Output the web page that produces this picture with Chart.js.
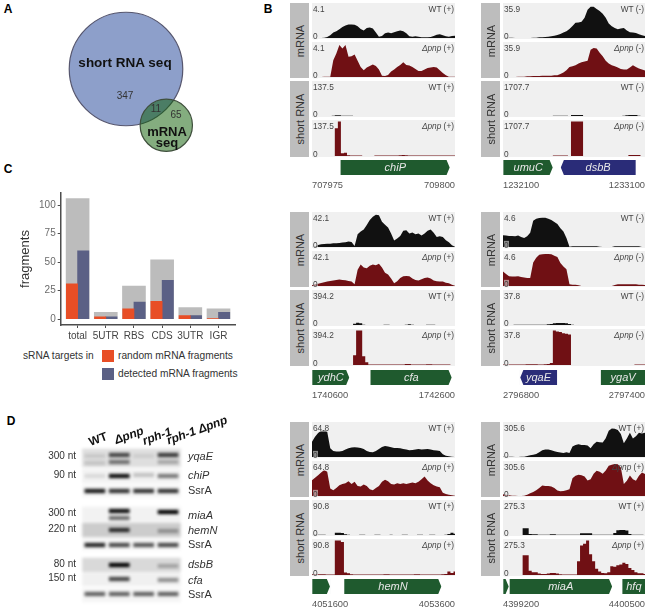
<!DOCTYPE html>
<html>
<head>
<meta charset="utf-8">
<script src="https://cdn.jsdelivr.net/npm/chart.js@4/dist/chart.umd.js"></script>
<style>
  html, body { margin: 0; padding: 0; background: #fff; overflow: hidden; }
  body { position: relative; width: 648px; height: 610px; font-family: "Liberation Sans", Arial, sans-serif; }
  canvas { position: absolute; display: block; }
  .txt { position: absolute; white-space: nowrap; line-height: 1; }
  .box { position: absolute; }
</style>
</head>
<body>
<script>
// panel A
const vennNames = ['short RNA seq', 'mRNA seq'];
const vennCounts = [358, 76];
const vennX = [126, 166.3];
const vennY = [69, 125.3];

// panel C
const regions = ['total', '5UTR', 'RBS', 'CDS', '3UTR', 'IGR'];
const allFragments = [106, 6, 29, 52, 10, 9];
const randomFragments = [31, 2, 9, 15.5, 3, 0.5];
const detectedFragments = [60, 2, 15, 34, 3, 6];
const fragmentTicks = [0, 25, 50, 75, 100];

// panel D, gel positions read from the blot
const blotRowTop = [449, 469, 485, 507, 523, 538, 558, 573, 588];
const blotRowBottom = [467, 483, 497, 522, 537, 550, 572, 586, 602];
const blotRowShade = [0.13, 0.05, 0.04, 0.05, 0.2, 0.04, 0.15, 0.06, 0.04];
const bandLane = [0, 0, 1, 1, 2, 3, 3, 0, 1, 2, 3, 0, 1, 2, 3, 1, 1, 3, 1, 3, 0, 1, 2, 3, 1, 3, 1, 3, 0, 1, 2, 3];
const bandPos = [456, 463, 455, 462, 456, 455, 462, 476, 476, 475, 476, 491, 491, 491, 491, 511, 518, 512, 530, 531, 545, 545, 545, 545, 565, 566, 579, 580, 594, 594, 594, 594];
const bandShade = [0.1, 0.12, 0.7, 0.5, 0.08, 0.75, 0.25, 0.1, 0.95, 0.2, 0.5, 0.9, 0.8, 0.8, 0.8, 0.95, 0.55, 1, 0.8, 0.3, 0.85, 0.7, 0.65, 0.7, 1, 0.25, 0.7, 0.4, 0.6, 0.6, 0.6, 0.6];

// panel B, coverage as percent of the value in maxLabels, 48 bins per window
const chiPmrnaWt = [0,0,0,0,1,3,8,16,20,26,33,37,40,40,39,35,27,22,30,31,28,16,4,6,14,16,14,17,20,22,20,14,5,4,5,4,2,2,2,3,6,10,11,8,5,4,6,7];
const chiPmrnaPnp = [0,0,0,0,1,1,1,50,70,95,85,95,60,62,67,48,30,20,28,33,37,33,22,4,3,6,16,22,30,36,44,36,34,30,24,18,18,22,27,28,30,28,20,12,5,1,1,1];
const chiPshortWt = [0,0,0,0,0,0,0,1,2,2,1,1,1,1,0,0,0,0,0,0,0,0,0,0,0,0,0,0,0,0,0,0,0,0,0,0,0,0,0,0,0,0,0,0,0,0,0,0];
const chiPshortPnp = [0,0,0,0,0,0,0,0,80,100,8,9,2,1,1,1,1,0,0,0,0,1,1,1,1,1,1,1,1,2,3,2,1,1,1,1,1,1,1,1,1,1,1,1,1,1,1,1];

const dsbBmrnaWt = [0,1,1,1,0,0,0,0,0,0,1,1,2,2,3,4,5,7,9,12,16,20,27,36,45,46,48,60,84,93,93,86,80,72,60,43,35,30,26,28,30,22,17,16,15,11,8,6];
const dsbBmrnaPnp = [0,0,0,0,0,1,1,1,2,2,3,3,3,4,4,4,4,5,5,9,13,20,30,32,35,40,44,46,48,81,86,85,72,62,48,40,35,32,28,24,22,22,28,35,30,25,22,19];
const dsbBshortWt = [0,0,0,0,0,0,0,0,0,0,0,0,0,0,0,0,0,1,1,1,1,1,0,3,3,3,3,0,0,0,0,0,0,0,0,0,0,0,0,0,1,2,3,3,3,1,0,0];
const dsbBshortPnp = [0,0,0,0,0,0,0,0,0,0,0,0,0,0,0,0,0,1,1,1,1,1,0,100,100,100,100,0,0,0,0,0,0,0,0,0,0,0,0,0,0,0,3,3,3,3,0,0];

const cfamrnaWt = [0,1,6,8,9,10,10,11,11,12,13,14,16,15,3,38,46,52,65,80,90,96,94,75,66,58,40,19,25,33,48,50,40,43,38,40,34,40,48,52,42,30,32,30,20,14,5,1];
const cfamrnaPnp = [2,5,7,9,11,13,15,16,18,19,18,17,15,13,5,48,64,55,53,60,64,62,66,55,39,34,22,8,14,24,29,30,29,22,18,16,20,24,25,22,16,14,13,13,10,8,4,1];
const cfashortWt = [0,0,0,0,0,0,0,0,0,0,0,0,0,0,4,7,5,1,0,0,0,0,0,0,1,1,0,0,0,0,0,1,2,1,0,0,0,0,1,1,1,0,0,0,0,0,0,0];
const cfashortPnp = [0,0,0,0,0,0,0,0,0,0,0,0,0,0,28,100,100,25,8,1,1,1,1,1,1,1,1,1,1,1,1,3,3,1,1,1,1,1,2,2,1,1,1,1,1,1,0,0];

const yqaEmrnaWt = [35,34,33,33,32,34,30,27,32,42,78,84,86,87,87,84,80,74,68,56,46,27,1,2,2,2,2,2,2,2,2,2,1,0,0,0,0,2,2,2,2,2,2,2,2,2,0,0];
const yqaEmrnaPnp = [43,36,29,28,28,29,27,25,24,24,70,84,93,94,95,95,94,90,86,68,58,50,5,4,4,2,0,0,0,0,0,0,0,0,0,0,0,3,5,5,5,5,5,5,5,4,4,3];
const yqaEshortWt = [0,0,0,0,1,1,1,1,1,1,1,1,1,1,1,2,3,5,6,6,6,5,3,1,0,0,0,0,0,0,0,0,0,0,0,0,0,0,0,0,0,0,0,0,0,0,0,0];
const yqaEshortPnp = [1,1,1,1,1,1,1,1,2,2,2,2,1,1,2,3,6,100,97,95,92,90,88,0,0,0,0,0,0,0,0,0,0,0,0,0,0,0,0,0,0,0,0,0,1,1,1,1];

const hemNmrnaWt = [45,60,71,78,80,75,26,18,16,16,18,22,26,28,29,28,27,24,18,15,14,18,24,30,33,31,29,27,27,26,24,22,20,21,22,24,22,23,24,22,20,19,18,8,4,2,1,0];
const hemNmrnaPnp = [47,54,62,70,77,72,22,17,24,32,36,38,44,36,42,30,28,34,30,20,17,24,30,42,48,44,36,34,38,36,38,36,38,40,38,42,50,58,46,38,32,28,26,10,6,4,2,1];
const hemNshortWt = [0,1,1,1,1,0,0,0,7,7,6,2,1,0,0,0,1,1,0,0,0,1,1,0,0,0,1,0,0,0,1,1,0,0,0,1,1,0,0,1,1,0,0,0,1,3,7,4];
const hemNshortPnp = [2,2,2,2,2,1,1,1,100,100,95,7,5,2,1,1,1,1,1,1,1,1,1,1,2,2,1,1,1,1,1,1,1,1,2,2,1,1,1,1,1,1,1,2,3,10,6,10];

const miaAmrnaWt = [1,1,1,1,0,0,1,1,3,5,7,9,14,20,22,22,20,17,15,13,12,14,12,31,36,38,36,36,34,26,38,45,44,43,56,78,85,84,80,68,41,55,72,55,62,72,70,72];
const miaAmrnaPnp = [5,4,2,1,1,0,0,1,4,8,12,17,24,31,30,30,28,24,16,14,15,17,20,53,60,63,62,58,46,50,66,75,72,66,76,90,93,95,94,85,36,45,61,50,45,60,70,65];
const miaAshortWt = [0,0,0,0,0,0,0,20,20,3,2,2,1,1,1,1,2,2,1,1,1,1,1,1,1,1,5,5,5,5,1,1,1,1,1,1,1,6,14,15,15,13,3,1,1,1,1,0];
const miaAshortPnp = [0,0,0,0,0,0,0,57,57,12,8,8,4,3,3,4,6,6,4,2,1,1,1,1,1,40,85,90,100,60,40,18,10,6,5,8,25,24,28,30,35,32,20,14,8,5,5,3];

const coverage = [
  [chiPmrnaWt, chiPmrnaPnp, chiPshortWt, chiPshortPnp],
  [dsbBmrnaWt, dsbBmrnaPnp, dsbBshortWt, dsbBshortPnp],
  [cfamrnaWt, cfamrnaPnp, cfashortWt, cfashortPnp],
  [yqaEmrnaWt, yqaEmrnaPnp, yqaEshortWt, yqaEshortPnp],
  [hemNmrnaWt, hemNmrnaPnp, hemNshortWt, hemNshortPnp],
  [miaAmrnaWt, miaAmrnaPnp, miaAshortWt, miaAshortPnp]
];
const maxLabels = [['4.1', '137.5'], ['35.9', '1707.7'], ['42.1', '394.2'], ['4.6', '37.8'], ['64.8', '90.8'], ['305.6', '275.3']];
const strands = ['+', '-', '+', '-', '+', '+'];

const windowStart = [707975, 1232100, 1740600, 2796800, 4051600, 4399200];
const windowEnd = [709800, 1233100, 1742600, 2797400, 4053600, 4400500];
const geneNames = [['chiP'], ['umuC', 'dsbB'], ['ydhC', 'cfa'], ['yqaE', 'ygaV'], ['', 'hemN'], ['', 'miaA', 'hfq']];
const geneStarts = [[708344], [1232105, 1232507], [1740609, 1741423], [2796873, 2797215], [4051609, 4052056], [4399206, 4399258, 4400296]];
const geneEnds = [[709732], [1232450, 1233032], [1741121, 1742553], [2797027, 2797400], [4051851, 4053409], [4399252, 4400199, 4400500]];
const geneDirs = [[1], [1, -1], [1, 1], [-1, 0], [1, 1], [1, 1, 0]];

const GREY_BAR = '#bcbcbc';
const ORANGE = '#e84e26';
const SLATE = '#5b6085';
const DARK_RED = '#701014';
const GREEN_GENE = '#1f5a2e';
const NAVY_GENE = '#2a2c78';

Chart.defaults.responsive = false;
Chart.defaults.devicePixelRatio = 1;
Chart.defaults.font.family = '"Liberation Sans", Arial, sans-serif';
Chart.defaults.plugins.legend.display = false;
Chart.defaults.plugins.tooltip.enabled = false;

function addChart(x, y, w, h, config) {
  const canvas = document.createElement('canvas');
  canvas.width = w;
  canvas.height = h;
  canvas.style.left = x + 'px';
  canvas.style.top = y + 'px';
  canvas.style.width = w + 'px';
  canvas.style.height = h + 'px';
  document.body.appendChild(canvas);
  config.options.animation = false;
  return new Chart(canvas.getContext('2d'), config);
}

function addText(html, x, y, opts = {}) {
  const el = document.createElement('div');
  el.className = 'txt';
  el.innerHTML = html;
  el.style.left = x + 'px';
  el.style.top = y + 'px';
  el.style.fontSize = (opts.size || 10) + 'px';
  el.style.color = opts.color || '#333';
  if (opts.bold) el.style.fontWeight = 'bold';
  if (opts.italic) el.style.fontStyle = 'italic';
  if (opts.bg) el.style.background = opts.bg;
  const dx = opts.align === 'right' ? '-100%' : opts.align === 'left' ? '0' : '-50%';
  el.style.transform = `translate(${dx}, -50%)` + (opts.rotate ? ` rotate(${opts.rotate}deg)` : '');
  document.body.appendChild(el);
}

function addBox(x, y, w, h, color) {
  const el = document.createElement('div');
  el.className = 'box';
  el.style.cssText += `left:${x}px;top:${y}px;width:${w}px;height:${h}px;background:${color}`;
  document.body.appendChild(el);
}

// panel letters
addText('A', 8, 9, { size: 12, bold: true, color: '#000' });
addText('B', 268, 9, { size: 12, bold: true, color: '#000' });
addText('C', 8, 169, { size: 12, bold: true, color: '#000' });
addText('D', 11, 421, { size: 12, bold: true, color: '#000' });

// panel A, circle area follows the set size
addChart(0, 0, 260, 165, {
  type: 'bubble',
  data: {
    datasets: [{
      data: vennCounts.map((c, i) => ({ x: vennX[i], y: vennY[i], r: Math.sqrt(c) * 3 })),
      backgroundColor: ['#8d9fca', 'rgba(9, 91, 0, 0.5)'],
      borderColor: ['#56566e', '#3f4f3c'],
      borderWidth: 1.2
    }]
  },
  options: {
    layout: { autoPadding: false },
    scales: {
      x: { type: 'linear', min: 0, max: 260, display: false },
      y: { type: 'linear', min: 0, max: 165, reverse: true, display: false }
    }
  }
});
addText(vennNames[0], 125, 63, { size: 13.5, bold: true, color: '#111' });
addText('347', 125, 96, { size: 10 });
addText('11', 156, 109, { size: 10 });
addText('65', 176, 115, { size: 10 });
addText('mRNA', 167, 131, { size: 13, bold: true, color: '#111' });
addText('seq', 167, 142, { size: 13, bold: true, color: '#111' });

// panel C
addChart(0, 185, 260, 160, {
  type: 'bar',
  data: {
    datasets: [
      {
        data: allFragments.map((v, i) => ({ x: i, y: v })),
        backgroundColor: GREY_BAR,
        barThickness: 23,
        order: 2
      },
      {
        data: randomFragments.map((v, i) => ({ x: i - 0.2, y: v })),
        backgroundColor: ORANGE,
        barThickness: 11.3,
        order: 1
      },
      {
        data: detectedFragments.map((v, i) => ({ x: i + 0.2, y: v })),
        backgroundColor: SLATE,
        barThickness: 11.3,
        order: 1
      }
    ]
  },
  options: {
    layout: { padding: { right: 24.6 } },
    datasets: { bar: { grouped: false } },
    scales: {
      x: {
        type: 'linear',
        offset: false,
        min: -0.6,
        max: 5.6,
        afterBuildTicks: axis => { axis.ticks = regions.map((r, i) => ({ value: i })); },
        afterFit: axis => { axis.height = 20; axis.paddingLeft = 0; axis.paddingRight = 0; },
        border: { color: '#4d4d4d', width: 1.5 },
        grid: { drawOnChartArea: false, offset: false, color: '#4d4d4d', tickLength: 3 },
        ticks: {
          autoSkip: false,
          maxRotation: 0,
          padding: 2,
          color: '#444',
          font: { size: 10 },
          callback: value => regions[value]
        }
      },
      y: {
        min: -5.2,
        max: 110.8,
        afterBuildTicks: axis => { axis.ticks = fragmentTicks.map(v => ({ value: v })); },
        afterFit: axis => { axis.width = 60.7; },
        border: { color: '#4d4d4d', width: 1.5 },
        grid: { drawOnChartArea: false, color: '#4d4d4d', tickLength: 3 },
        ticks: { padding: 2, color: '#6b6b6b', font: { size: 10 } },
        title: { display: true, text: 'fragments', color: '#333', font: { size: 13 }, padding: { top: 18, bottom: 0 } }
      }
    }
  }
});
addText('sRNA targets in', 23, 356, { size: 10.2, align: 'left' });
addBox(102, 350, 12, 12, ORANGE);
addBox(102, 368, 12, 12, SLATE);
addText('random mRNA fragments', 118, 356, { size: 10.2, align: 'left' });
addText('detected mRNA fragments', 118, 374, { size: 10.2, align: 'left' });

// panel D, lanes and rows are blurred floating bars
const blurBands = {
  id: 'blurBands',
  beforeDatasetsDraw(chart) { chart.ctx.save(); chart.ctx.filter = 'blur(1.6px)'; },
  afterDatasetsDraw(chart) { chart.ctx.restore(); }
};
addChart(70, 440, 120, 170, {
  type: 'bar',
  data: {
    datasets: [
      {
        data: blotRowTop.map((t, i) => ({ x: 1.5, y: [t, blotRowBottom[i]] })),
        backgroundColor: blotRowShade.map(s => `rgba(0,0,0,${s})`),
        barThickness: 98,
        order: 2
      },
      {
        data: bandPos.map((p, i) => ({ x: bandLane[i], y: [p - 1.8, p + 1.8] })),
        backgroundColor: bandShade.map(s => `rgba(0,0,0,${s})`),
        barThickness: 20,
        order: 1
      }
    ]
  },
  options: {
    datasets: { bar: { grouped: false } },
    scales: {
      x: { type: 'linear', offset: false, min: -1.02, max: 3.9, display: false },
      y: { type: 'linear', min: 440, max: 610, reverse: true, display: false }
    }
  },
  plugins: [blurBands]
});
const boldLabel = { size: 12, bold: true, color: '#111', rotate: -20 };
addText('WT', 98, 439, boldLabel);
addText('<i>Δpnp</i>', 129, 435, boldLabel);
addText('<i>rph-1</i>', 157, 436, boldLabel);
addText('<i>rph-1 Δpnp</i>', 197, 430, boldLabel);
[['300 nt', 456], ['90 nt', 475], ['300 nt', 513], ['220 nt', 529], ['80 nt', 564], ['150 nt', 578]].forEach(([t, y]) => {
  addText(t, 76, y, { size: 10, align: 'right' });
});
[['yqaE', 456], ['chiP', 475], ['miaA', 515], ['hemN', 530], ['dsbB', 564], ['cfa', 580]].forEach(([t, y]) => {
  addText(t, 188, y, { size: 11, italic: true, align: 'left' });
});
[490, 544, 594].forEach(y => addText('SsrA', 188, y, { size: 11, align: 'left' }));

// panel B
const colX = [312, 503];
const colW = [143, 142];
const stripX = [290, 481];
const blockTop = [3, 212, 422];
const geneTop = [160, 370, 579];
const rowOffset = [0, 39, 78, 117];

function addTrack(x, y, w, h, values, color, stepped) {
  addChart(x, y, w, h, {
    type: 'line',
    data: {
      datasets: [{
        data: values.map((v, i) => ({ x: i, y: v })),
        backgroundColor: color,
        borderWidth: 0,
        pointRadius: 0,
        stepped: stepped ? 'middle' : false,
        fill: 'origin'
      }]
    },
    options: {
      scales: {
        x: { type: 'linear', min: 0, max: values.length - 1, display: false },
        y: { min: -3, max: 104, display: false }
      }
    }
  });
}

const geneArrows = {
  id: 'geneArrows',
  afterDatasetsDraw(chart, args, opts) {
    const { ctx, scales } = chart;
    const top = chart.chartArea.top;
    const bottom = chart.chartArea.bottom;
    const mid = (top + bottom) / 2;
    opts.starts.forEach((start, i) => {
      const x0 = scales.x.getPixelForValue(start);
      const x1 = scales.x.getPixelForValue(opts.ends[i]);
      const dir = opts.dirs[i];
      const tip = dir > 0 ? x1 : x0;
      const neck = tip - dir * 3.5;
      if (dir !== 0) {
        ctx.save();
        ctx.globalCompositeOperation = 'destination-out';
        ctx.beginPath();
        ctx.moveTo(neck, top - 1);
        ctx.lineTo(tip + dir, top - 1);
        ctx.lineTo(tip + dir, bottom + 1);
        ctx.lineTo(neck, bottom + 1);
        ctx.lineTo(tip, mid);
        ctx.closePath();
        ctx.fill();
        ctx.restore();
      }
      if (opts.names[i]) {
        ctx.save();
        ctx.fillStyle = '#e8e8e8';
        ctx.font = 'italic 11px "Liberation Sans", Arial, sans-serif';
        ctx.textAlign = 'center';
        ctx.textBaseline = 'middle';
        ctx.fillText(opts.names[i], (x0 + x1) / 2, mid);
        ctx.restore();
      }
    });
  }
};

function addGenes(w, x, y, k) {
  addChart(x, y, w, 31, {
    type: 'bar',
    data: {
      datasets: [{
        data: geneStarts[k].map((s, i) => ({ x: [s, geneEnds[k][i]], y: 'gene' })),
        backgroundColor: geneDirs[k].map(d => (d < 0 ? NAVY_GENE : GREEN_GENE)),
        barThickness: 15
      }]
    },
    options: {
      indexAxis: 'y',
      plugins: {
        geneArrows: { starts: geneStarts[k], ends: geneEnds[k], dirs: geneDirs[k], names: geneNames[k] }
      },
      scales: {
        x: {
          type: 'linear',
          min: windowStart[k],
          max: windowEnd[k],
          afterBuildTicks: axis => { axis.ticks = [{ value: windowStart[k] }, { value: windowEnd[k] }]; },
          afterFit: axis => { axis.height = 16; axis.paddingLeft = 0; axis.paddingRight = 0; },
          border: { display: false },
          grid: { display: false, drawTicks: false },
          ticks: {
            autoSkip: false,
            maxRotation: 0,
            align: 'inner',
            padding: 5,
            color: '#555',
            font: { size: 9.3 },
            callback: value => String(value)
          }
        },
        y: { type: 'category', labels: ['gene'], display: false }
      }
    },
    plugins: [geneArrows]
  });
}

coverage.forEach((tracks, k) => {
  const col = k % 2;
  const block = Math.floor(k / 2);
  const x = colX[col];
  const w = colW[col];
  const top = blockTop[block];

  addBox(stripX[col], top, 19, 75, '#bdbdbd');
  addBox(stripX[col], top + 78, 19, 76, '#bdbdbd');
  addText('mRNA', stripX[col] + 9.5, top + 37.5, { size: 11, rotate: -90 });
  addText('short RNA', stripX[col] + 9.5, top + 116, { size: 11, rotate: -90 });

  tracks.forEach((values, r) => {
    const y = top + rowOffset[r];
    const h = r === 3 ? 37 : 36;
    const isPnp = r % 2 === 1;
    addBox(x, y, w, h, '#f0f0f0');
    addTrack(x, y, w, h, values, isPnp ? DARK_RED : '#111', r >= 2);
    const labelBg = 'rgba(240,240,240,0.55)';
    addText(maxLabels[k][r < 2 ? 0 : 1], x + 1, y + 5.5, { size: 8.3, color: '#444', align: 'left', bg: labelBg });
    addText('0', x + 1, y + h - 3.5, { size: 8.3, color: '#444', align: 'left', bg: labelBg });
    const tag = isPnp ? `<i>Δpnp</i> (${strands[k]})` : `WT (${strands[k]})`;
    addText(tag, x + w - 1, y + 5.5, { size: 8.3, color: '#444', align: 'right' });
  });

  addGenes(w, x, geneTop[block], k);
});
</script>
</body>
</html>
